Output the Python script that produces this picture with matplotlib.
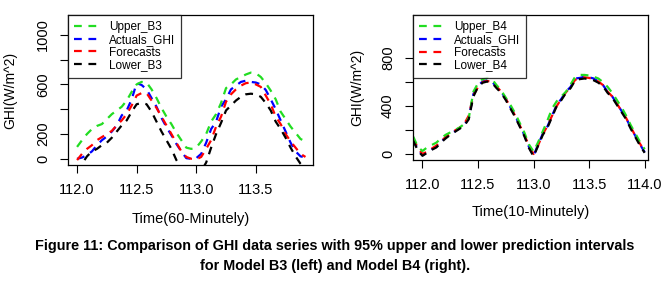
import numpy as np
import matplotlib.pyplot as plt

plt.rcParams['font.family'] = ['Liberation Sans', 'DejaVu Sans']

# Model B3, hourly values (60-minutely), day 112.0 .. 113.917
t3 = 112.0 + np.arange(47) / 24.0
upper_b3 = [96, 150, 200, 240, 265, 280, 320, 360, 390, 420, 470, 540, 600, 620, 615, 560,
            490, 410, 340, 280, 210, 150, 90, 80, 90, 140, 200, 300, 360, 450, 570, 600,
            640, 660, 680, 695, 690, 660, 610, 550, 480, 380, 320, 260, 210, 160, 140]
actual_b3 = [0, 10, 30, 60, 110, 150, 180, 220, 270, 350, 390, 480, 610, 595, 560, 490,
             420, 330, 256, 190, 120, 60, 5, 0, 5, 40, 130, 240, 300, 420, 480, 560,
             590, 620, 630, 620, 615, 600, 555, 480, 400, 310, 220, 130, 60, 20, 10]
fcst_b3 = [-10, 40, 80, 110, 150, 175, 200, 225, 270, 310, 360, 430, 510, 530, 530, 470,
           410, 340, 270, 200, 130, 60, 15, 0, -5, 15, 80, 150, 260, 340, 460, 520,
           560, 590, 610, 615, 600, 580, 510, 440, 340, 280, 200, 140, 90, 40, 15]
lower_b3 = [-110, -40, 20, 60, 80, 110, 130, 170, 220, 270, 310, 380, 440, 450, 440, 380,
            300, 220, 150, 80, -10, -70, -110, -130, -120, -100, -30, 90, 200, 290, 390, 430,
            470, 500, 520, 525, 520, 500, 450, 390, 300, 240, 170, 90, 20, -40, -80]

# Model B4, read roughly every hour from the 10-minutely curves, day 111.917 .. 114.0
t4 = 111.917 + np.arange(51) / 24.0
upper_b4 = [145, 60, 25, 55, 75, 95, 130, 160, 180, 200, 220, 250, 300, 520, 590, 625,
            635, 625, 575, 530, 470, 410, 340, 260, 180, 80, 20, 100, 190, 280, 380, 440,
            480, 520, 580, 645, 660, 660, 655, 645, 630, 600, 560, 510, 450, 390, 320, 240,
            170, 100, 40]
actual_b4 = [120, 40, -10, 15, 40, 60, 100, 140, 170, 190, 215, 240, 300, 500, 570, 605,
             615, 605, 560, 520, 460, 390, 320, 240, 160, 60, -15, 80, 170, 230, 320, 410,
             460, 520, 560, 630, 635, 645, 640, 630, 605, 575, 520, 480, 420, 360, 300, 220,
             150, 80, 15]
fcst_b4 = [130, 50, 0, 20, 45, 70, 105, 140, 170, 195, 220, 250, 320, 490, 560, 600,
           610, 600, 565, 520, 460, 395, 320, 240, 160, 70, 0, 75, 165, 235, 320, 400,
           460, 515, 560, 620, 630, 640, 635, 625, 605, 575, 520, 480, 420, 360, 300, 225,
           150, 85, 25]
lower_b4 = [110, 30, -15, 10, 35, 55, 95, 130, 160, 185, 210, 235, 290, 480, 560, 595,
            605, 595, 550, 510, 450, 380, 310, 230, 150, 50, -20, 70, 160, 220, 310, 400,
            450, 510, 550, 615, 625, 630, 625, 615, 595, 565, 510, 470, 410, 350, 290, 210,
            140, 70, 10]

green = '#22dd22'
dash = (3.5, 3)


def draw_panel(ax, t, upper, actual, fcst, lower, model, xlab, xlim, xticks, yticks, ylabels):
    ax.plot(t, actual, color='#0000ff', lw=1.6, dashes=dash, label='Actuals_GHI')
    ax.plot(t, fcst, color='#ff0000', lw=1.6, dashes=dash, label='Forecasts')
    ax.plot(t, upper, color=green, lw=1.6, dashes=dash, label='Upper_' + model)
    ax.plot(t, lower, color='black', lw=1.6, dashes=dash, label='Lower_' + model)
    ax.set_xlim(*xlim)
    ax.set_ylim(-50, 1160)
    ax.set_xticks(xticks)
    ax.set_xticklabels(['%.1f' % x for x in xticks], fontsize=10.5)
    ax.set_yticks(yticks)
    ax.set_yticklabels(ylabels, fontsize=10.5, rotation=90, va='center')
    ax.tick_params(direction='out', length=6, width=0.8, pad=7)
    ax.set_xlabel(xlab, fontsize=10.5, va='center')
    ax.xaxis.set_label_coords(0.5, -0.36)
    ax.set_ylabel('GHI(W/m^2)', fontsize=10, va='center')
    ax.yaxis.set_label_coords(-0.237, 0.5)
    for s in ax.spines.values():
        s.set_linewidth(0.9)
    h, l = ax.get_legend_handles_labels()
    order = [2, 0, 1, 3]
    leg = ax.legend([h[i] for i in order], [l[i] for i in order], loc='upper left',
                    fontsize=8.5, frameon=True, fancybox=False, borderaxespad=0,
                    handlelength=2.0, handletextpad=0.9, labelspacing=0.05,
                    borderpad=0.55)
    leg.get_frame().set_edgecolor('black')
    leg.get_frame().set_linewidth(0.9)


fig = plt.figure(figsize=(6.7, 2.81), dpi=100)
ax1 = fig.add_axes([0.1015, 0.4128, 0.3657, 0.534])
ax2 = fig.add_axes([0.6164, 0.4306, 0.3507, 0.516])

draw_panel(ax1, t3, upper_b3, actual_b3, fcst_b3, lower_b3, 'B3', 'Time(60-Minutely)',
           (111.924, 113.98), [112.0, 112.5, 113.0, 113.5],
           [0, 200, 400, 600, 800, 1000], ['0', '200', '', '600', '', '1000'])
draw_panel(ax2, t4, upper_b4, actual_b4, fcst_b4, lower_b4, 'B4', 'Time(10-Minutely)',
           (111.915, 114.03), [112.0, 112.5, 113.0, 113.5, 114.0],
           [0, 200, 400, 600, 800], ['0', '', '400', '', '800'])

fig.text(0.5, 0.125, 'Figure 11: Comparison of GHI data series with 95% upper and lower prediction intervals',
         ha='center', va='center', fontsize=10.4, fontweight='bold')
fig.text(0.5, 0.052, 'for Model B3 (left) and Model B4 (right).',
         ha='center', va='center', fontsize=10.4, fontweight='bold')

fig.savefig('out.png', dpi=100)
